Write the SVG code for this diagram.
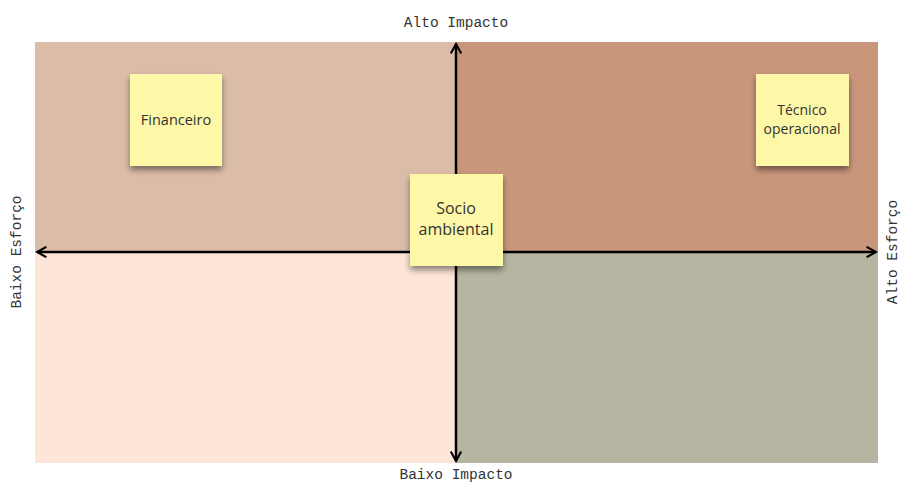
<svg xmlns="http://www.w3.org/2000/svg" width="901" height="483" viewBox="0 0 901 483">
<style>
.ax{font-family:"Liberation Mono","DejaVu Sans Mono",monospace;font-size:14.5px;fill:#333;text-anchor:middle}
.st{fill:#fdf7a8}
.stt{font-family:"Open Sans","Noto Sans",sans-serif;fill:#333;text-anchor:middle}
.ln{stroke:#000;stroke-width:2.5;fill:none}
</style>
<defs>
<marker id="ah" viewBox="0 0 12 12" refX="10" refY="6" markerWidth="5" markerHeight="5" orient="auto-start-reverse" markerUnits="strokeWidth">
<path d="M1,1 L10,6 L1,11" fill="none" stroke="#000" stroke-width="2"/>
</marker>
<filter id="sh" x="-20%" y="-20%" width="140%" height="150%">
<feGaussianBlur in="SourceAlpha" stdDeviation="3"/>
<feOffset dx="0" dy="4"/>
<feComponentTransfer><feFuncA type="linear" slope="0.45"/></feComponentTransfer>
<feMerge><feMergeNode/><feMergeNode in="SourceGraphic"/></feMerge>
</filter>
</defs>
<rect width="901" height="483" fill="#fff"/>
<g id="quadrants">
<rect x="35" y="42" width="421" height="210" fill="#dbbca8"/>
<rect x="456" y="42" width="422" height="210" fill="#c9967c"/>
<rect x="35" y="252" width="421" height="211" fill="#fde5d7"/>
<rect x="456" y="252" width="422" height="211" fill="#b6b5a2"/>
</g>
<g id="connectors">
<line class="ln" x1="37" y1="252" x2="876" y2="252" marker-start="url(#ah)" marker-end="url(#ah)"/>
<line class="ln" x1="456" y1="44" x2="456" y2="461" marker-start="url(#ah)" marker-end="url(#ah)"/>
</g>
<g id="labels">
<text class="ax" x="456" y="27">Alto Impacto</text>
<text class="ax" x="456" y="479">Baixo Impacto</text>
<text class="ax" transform="translate(21,252) rotate(-90)">Baixo Esforço</text>
<text class="ax" transform="translate(897,252) rotate(-90)">Alto Esforço</text>
</g>
<g id="financeiro">
<rect class="st" x="130" y="74" width="92" height="92" filter="url(#sh)"/>
<text class="stt" x="176" y="125" font-size="14.5">Financeiro</text>
</g>
<g id="tecnico">
<rect class="st" x="756" y="74" width="93" height="92" filter="url(#sh)"/>
<text class="stt" x="802" y="115" font-size="14">Técnico</text>
<text class="stt" x="802" y="134" font-size="14">operacional</text>
</g>
<g id="socio">
<rect class="st" x="410" y="174" width="93" height="92" filter="url(#sh)"/>
<text class="stt" x="456" y="214" font-size="16">Socio</text>
<text class="stt" x="456" y="235" font-size="16">ambiental</text>
</g>
</svg>
